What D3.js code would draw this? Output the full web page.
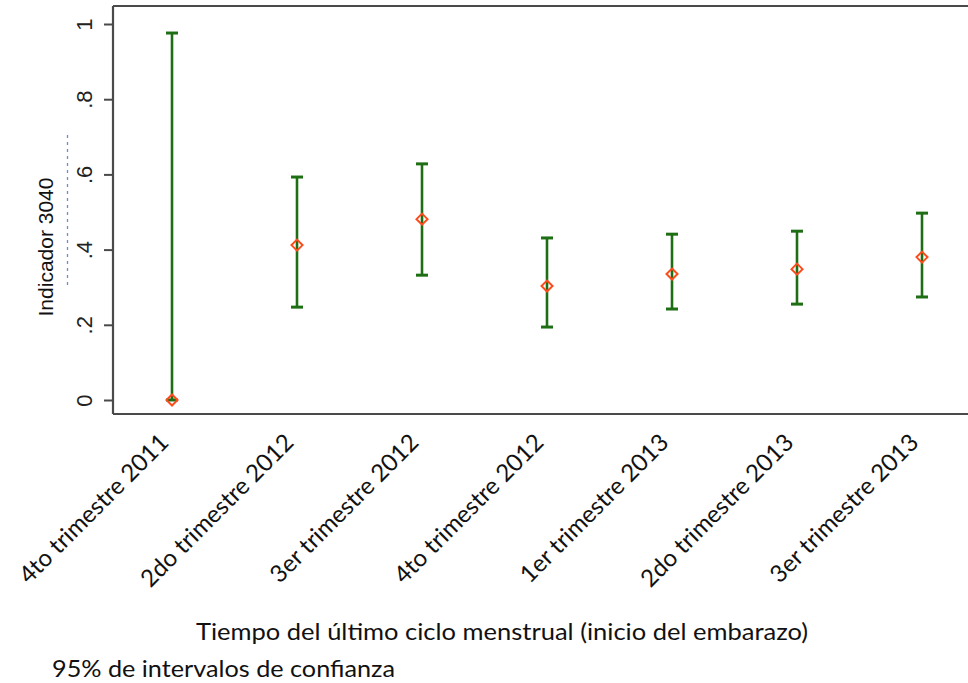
<!DOCTYPE html>
<html>
<head>
<meta charset="utf-8">
<script src="https://cdn.jsdelivr.net/npm/d3@7/dist/d3.min.js"></script>
<style>
  html, body { margin: 0; padding: 0; background: #fff; }
  svg { display: block; }
</style>
</head>
<body>
<script>
// Indicator 3040 by quarter of last menstrual period, with 95% confidence intervals
const categories = [
  "4to trimestre 2011",
  "2do trimestre 2012",
  "3er trimestre 2012",
  "4to trimestre 2012",
  "1er trimestre 2013",
  "2do trimestre 2013",
  "3er trimestre 2013"
];
const estimates = [0.000, 0.412, 0.481, 0.303, 0.335, 0.348, 0.380];
const lowerCI   = [0.000, 0.247, 0.332, 0.194, 0.242, 0.255, 0.274];
const upperCI   = [0.976, 0.593, 0.628, 0.431, 0.441, 0.449, 0.497];
const yTicks = [0, 0.2, 0.4, 0.6, 0.8, 1];
const yTickLabels = ["0", ".2", ".4", ".6", ".8", "1"];

const W = 968, H = 683;
const frame = { left: 113, top: 6, bottom: 414 };

const svg = d3.select("body").append("svg")
  .attr("width", W).attr("height", H);

const x = d3.scalePoint().domain(categories).range([172, 922]);
const y = d3.scaleLinear().domain([0, 1]).range([400, 24]);

const axisColor = "#4a4a4a";
const textFont = "Lato, 'Open Sans', sans-serif";

// plot frame: top rule and bottom rule
svg.append("line")
  .attr("x1", frame.left).attr("x2", W)
  .attr("y1", frame.top).attr("y2", frame.top)
  .attr("stroke", axisColor).attr("stroke-width", 2.2);
svg.append("line")
  .attr("x1", frame.left).attr("x2", W)
  .attr("y1", frame.bottom).attr("y2", frame.bottom)
  .attr("stroke", axisColor).attr("stroke-width", 2.2);

// y axis with rotated tick labels
const yAxis = d3.axisLeft(y)
  .tickValues(yTicks)
  .tickSize(9)
  .tickPadding(0)
  .tickFormat((d, i) => yTickLabels[i]);
const gy = svg.append("g")
  .attr("transform", `translate(${frame.left},0)`)
  .call(yAxis);
gy.select(".domain")
  .attr("d", `M0,${frame.top}V${frame.bottom}`)
  .attr("stroke", axisColor).attr("stroke-width", 2.2);
gy.selectAll(".tick line").attr("stroke", axisColor).attr("stroke-width", 2);
gy.selectAll(".tick text")
  .attr("x", null).attr("dy", null)
  .attr("transform", "translate(-21,0) rotate(-90)")
  .attr("text-anchor", "middle")
  .attr("font-family", "Liberation Sans, Arial, sans-serif")
  .attr("font-size", 22)
  .attr("fill", "#222");

// faint dotted guide left of the y axis
svg.append("line")
  .attr("x1", 67.5).attr("x2", 67.5)
  .attr("y1", y(0.705)).attr("y2", y(0.3))
  .attr("stroke", "#4f7cc4").attr("stroke-width", 1.3)
  .attr("stroke-dasharray", "3,4").attr("opacity", 0.85);

// y axis title
svg.append("text")
  .attr("transform", `translate(53,247) rotate(-90)`)
  .attr("text-anchor", "middle")
  .attr("font-family", "Liberation Sans, Arial, sans-serif")
  .attr("font-size", 21)
  .attr("fill", "#111")
  .text("Indicador 3040");

// x category labels, rotated, each on a white box that breaks the bottom rule
const labelG = svg.append("g");
categories.forEach((c, i) => {
  const g = labelG.append("g")
    .attr("transform", `translate(${x(c) - 2},${frame.bottom + 30}) rotate(-45)`);
  const t = g.append("text")
    .attr("text-anchor", "end")
    .attr("font-family", textFont)
    .attr("font-size", 24)
    .attr("fill", "#111")
    .text(c);
  const bb = t.node().getBBox();
  g.insert("rect", "text")
    .attr("x", bb.x - 2).attr("y", bb.y - 4)
    .attr("width", bb.width + 6).attr("height", bb.height + 6)
    .attr("fill", "#fff");
});

// confidence intervals
const ciColor = "#1e6e14";
const capHalf = 6;
const bars = svg.append("g");
categories.forEach((c, i) => {
  const cx = x(c);
  bars.append("line")
    .attr("x1", cx).attr("x2", cx)
    .attr("y1", y(lowerCI[i])).attr("y2", y(upperCI[i]))
    .attr("stroke", ciColor).attr("stroke-width", 2.6);
  [lowerCI[i], upperCI[i]].forEach(v => {
    bars.append("line")
      .attr("x1", cx - capHalf).attr("x2", cx + capHalf)
      .attr("y1", y(v)).attr("y2", y(v))
      .attr("stroke", ciColor).attr("stroke-width", 3);
  });
});

// point estimates as hollow diamonds
svg.append("g").selectAll("path")
  .data(estimates)
  .join("path")
  .attr("transform", (d, i) => `translate(${x(categories[i])},${y(d)})`)
  .attr("d", "M0,-5.5L5.5,0L0,5.5L-5.5,0Z")
  .attr("fill", "none")
  .attr("stroke", "#ff4a1c")
  .attr("stroke-width", 2);

// x axis title and note
svg.append("text")
  .attr("x", 196).attr("y", 640)
  .attr("textLength", 612).attr("lengthAdjust", "spacingAndGlyphs")
  .attr("font-family", textFont)
  .attr("font-size", 24)
  .attr("fill", "#111")
  .text("Tiempo del último ciclo menstrual (inicio del embarazo)");
svg.append("text")
  .attr("x", 52).attr("y", 677)
  .attr("textLength", 343).attr("lengthAdjust", "spacingAndGlyphs")
  .attr("font-family", textFont)
  .attr("font-size", 24)
  .attr("fill", "#111")
  .text("95% de intervalos de confianza");
</script>
</body>
</html>
